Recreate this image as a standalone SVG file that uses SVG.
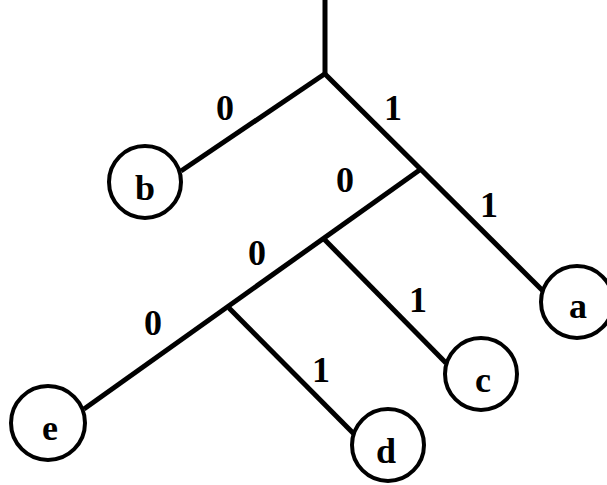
<svg xmlns="http://www.w3.org/2000/svg" width="607" height="485" viewBox="0 0 607 485">
<style>
.edge{stroke:#000;stroke-width:5;fill:none;stroke-linecap:butt}
.node circle{fill:#fff;stroke:#000;stroke-width:4}
.node text{font-family:"Liberation Serif","Times New Roman",serif;font-weight:bold;font-size:36px;text-anchor:middle;fill:#000}
.lbl{font-family:"Liberation Serif","Times New Roman",serif;font-weight:bold;font-size:36px;text-anchor:middle;fill:#000}
</style>
<rect width="607" height="485" fill="#fff"/>
<g id="connectors">
<line class="edge" x1="325" y1="0" x2="325" y2="75"/>
<line class="edge" x1="326" y1="73" x2="181" y2="171"/>
<line class="edge" x1="324" y1="73" x2="543" y2="291"/>
<line class="edge" x1="421" y1="169" x2="84" y2="409"/>
<line class="edge" x1="324" y1="239" x2="446" y2="363"/>
<line class="edge" x1="229" y1="308" x2="354" y2="434"/>
</g>
<g id="edge-labels">
<text class="lbl" x="225" y="120">0</text>
<text class="lbl" x="393" y="120">1</text>
<text class="lbl" x="345" y="192">0</text>
<text class="lbl" x="489" y="217">1</text>
<text class="lbl" x="257" y="265">0</text>
<text class="lbl" x="418" y="312">1</text>
<text class="lbl" x="153" y="335">0</text>
<text class="lbl" x="321" y="382">1</text>
</g>
<g id="node-b" class="node"><circle cx="145" cy="182" r="36"/><text x="145" y="200">b</text></g>
<g id="node-a" class="node"><circle cx="577" cy="302" r="36"/><text x="578" y="318">a</text></g>
<g id="node-c" class="node"><circle cx="481" cy="374" r="36"/><text x="483" y="392">c</text></g>
<g id="node-d" class="node"><circle cx="388" cy="445" r="36"/><text x="386" y="463">d</text></g>
<g id="node-e" class="node"><circle cx="48" cy="423" r="37"/><text x="50" y="440">e</text></g>
</svg>
